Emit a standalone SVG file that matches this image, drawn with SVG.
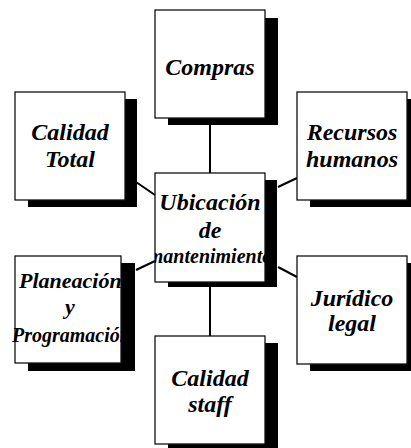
<svg xmlns="http://www.w3.org/2000/svg" width="411" height="448" viewBox="0 0 411 448">
<style>
.sh{fill:#000}
.bx{fill:#fff;stroke:#111;stroke-width:1.3}
.t{font-family:"Liberation Serif","Times New Roman",serif;font-weight:bold;font-style:italic;font-size:24px;fill:#000;text-anchor:middle}
.s{text-anchor:start}
.c{stroke:#000;stroke-width:2;fill:none}
</style>
<defs>
<clipPath id="cU"><rect x="155" y="173" width="110" height="109"/></clipPath>
<clipPath id="cP"><rect x="0" y="256" width="121" height="106"/></clipPath>
</defs>
<g id="connectors">
<line class="c" x1="210" y1="125" x2="210" y2="173"/>
<line class="c" x1="210" y1="287" x2="210" y2="336"/>
<line class="c" x1="136" y1="182" x2="155" y2="195"/>
<line class="c" x1="278" y1="187" x2="297" y2="178"/>
<line class="c" x1="136" y1="270" x2="155" y2="261"/>
<line class="c" x1="278" y1="267" x2="297" y2="277"/>
</g>
<g id="compras">
<rect class="sh" x="168" y="18" width="110" height="107"/>
<rect class="bx" x="155" y="10" width="110" height="108"/>
<text class="t" x="210" y="75">Compras</text>
</g>
<g id="calidad-total">
<rect class="sh" x="28" y="99" width="109" height="108"/>
<rect class="bx" x="15" y="92" width="110" height="108"/>
<text class="t" x="70" y="140">Calidad</text>
<text class="t" x="70" y="167">Total</text>
</g>
<g id="recursos-humanos">
<rect class="sh" x="310" y="99" width="101" height="108"/>
<rect class="bx" x="297" y="92" width="110" height="108"/>
<text class="t" x="352" y="140">Recursos</text>
<text class="t" x="352" y="167">humanos</text>
</g>
<g id="ubicacion">
<rect class="sh" x="168" y="180" width="109" height="107"/>
<rect class="bx" x="155" y="173" width="110" height="109"/>
<g clip-path="url(#cU)">
<text class="t" x="210" y="210">Ubicación</text>
<text class="t" x="210" y="238">de</text>
<text class="t" x="210" y="263" style="font-size:20px">mantenimiento</text>
</g>
</g>
<g id="planeacion">
<rect class="sh" x="28" y="263" width="107" height="108"/>
<rect class="bx" x="15" y="256" width="106" height="107"/>
<g clip-path="url(#cP)">
<text class="t s" x="19" y="288" style="font-size:22px">Planeación</text>
<text class="t" x="70" y="314" style="font-size:22px">y</text>
<text class="t s" x="12" y="342" style="font-size:20px">Programación</text>
</g>
</g>
<g id="juridico-legal">
<rect class="sh" x="310" y="263" width="101" height="108"/>
<rect class="bx" x="297" y="256" width="110" height="108"/>
<text class="t" x="352" y="306">Jurídico</text>
<text class="t" x="352" y="331">legal</text>
</g>
<g id="calidad-staff">
<rect class="sh" x="168" y="343" width="110" height="105"/>
<rect class="bx" x="155" y="336" width="110" height="108"/>
<text class="t" x="210" y="386">Calidad</text>
<text class="t" x="210" y="412">staff</text>
</g>
</svg>
